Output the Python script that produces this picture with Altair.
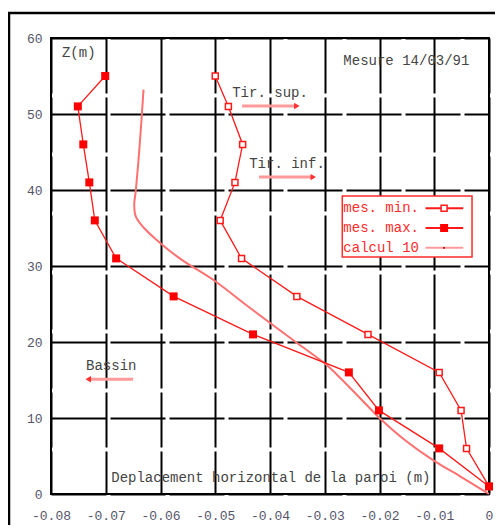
import altair as alt
import pandas as pd

# ---- data ----
z_mes = [55, 51, 46, 41, 36, 31, 26, 21, 16, 11, 6, 1]
x_min = [-0.0500, -0.0476, -0.0450, -0.0464, -0.0491, -0.0452, -0.0351, -0.0221, -0.0091, -0.0051, -0.0041, 0.0]
x_max = [-0.0701, -0.0751, -0.0741, -0.0730, -0.0720, -0.0681, -0.0576, -0.0431, -0.0256, -0.0201, -0.0091, 0.0]

z_calc = [53.2, 50, 45, 40, 38, 36.5, 35, 33.5, 31, 28, 25, 23, 20, 17, 15, 12.5, 10, 7, 4.25, 2.3, 0]
x_calc = [-0.0631, -0.0634, -0.0639, -0.0645, -0.0648, -0.0645, -0.0630, -0.0608, -0.0565, -0.0500,
          -0.0446, -0.0409, -0.0353, -0.0297, -0.0268, -0.0234, -0.0200, -0.0152, -0.0098, -0.0052, 0.0]

x_ticks = [-0.08, -0.07, -0.06, -0.05, -0.04, -0.03, -0.02, -0.01, 0]
y_ticks = [0, 10, 20, 30, 40, 50, 60]

ann_text = ["Z(m)", "Mesure 14/03/91", "Tir. sup.", "Tir. inf.", "Bassin",
            "Deplacement horizontal de la paroi (m)"]
ann_x = [-0.0780, -0.0266, -0.0469, -0.0438, -0.0736, -0.0690]
ann_z = [58.0, 57.0, 52.8, 43.4, 16.9, 2.1]

arrow_x1 = [-0.0451, -0.0420, -0.0650]
arrow_x2 = [-0.0351, -0.0321, -0.0732]
arrow_z = [51.05, 41.7, 15.1]
arrow_shape = ["triangle-right", "triangle-right", "triangle-left"]

leg_labels = ["mes. min.", "mes. max.", "calcul 10"]
leg_z = [37.6, 35.0, 32.4]
leg_box_x = [-0.0268, -0.0031]
leg_box_z = [31.2, 39.2]
leg_text_x = -0.0266
leg_sym_x = [-0.0116, -0.0047]
leg_mark_x = -0.0082

FONT = "Liberation Mono"
RED = "#ff1a1a"
PINK = "#ff7070"

df_min = pd.DataFrame({"x": x_min, "z": z_mes, "o": range(len(z_mes))})
df_max = pd.DataFrame({"x": x_max, "z": z_mes, "o": range(len(z_mes))})
df_calc = pd.DataFrame({"x": x_calc, "z": z_calc, "o": range(len(z_calc))})
df_ann = pd.DataFrame({"t": ann_text, "x": ann_x, "z": ann_z})
df_arr = pd.DataFrame({"x1": arrow_x1, "x2": arrow_x2, "z": arrow_z, "s": arrow_shape})
df_leg = pd.DataFrame({"t": leg_labels, "z": leg_z, "x": [leg_text_x] * 3,
                       "s1": [leg_sym_x[0]] * 3, "s2": [leg_sym_x[1]] * 3, "m": [leg_mark_x] * 3})
df_box = pd.DataFrame({"x1": [leg_box_x[0]], "x2": [leg_box_x[1]], "z1": [leg_box_z[0]], "z2": [leg_box_z[1]]})

xs = alt.Scale(domain=[-0.08, 0], nice=False, zero=False)
ys = alt.Scale(domain=[0, 60], nice=False, zero=False)
x_axis = alt.Axis(values=x_ticks, title=None, labelExpr="'' + datum.value", labelPadding=15,
                  tickSize=0, grid=True, domain=False, labelOverlap=False, labelBound=False,
                  labelFlush=False)
y_axis = alt.Axis(values=y_ticks, title=None, labelPadding=9, tickSize=0, grid=True, domain=False,
                  labelOverlap=False, labelFlush=False)


def X(f="x"):
    return alt.X(f"{f}:Q", scale=xs, axis=x_axis)


def Y(f="z"):
    return alt.Y(f"{f}:Q", scale=ys, axis=y_axis)


frame_left = alt.Chart(df_box).mark_rule(color="black", strokeWidth=2.5).encode(
    x=alt.value(-42), y=alt.value(-25), y2=alt.value(700))
frame_top = alt.Chart(df_box).mark_rule(color="black", strokeWidth=2.5).encode(
    x=alt.value(-43), x2=alt.value(700), y=alt.value(-25))

line_min = alt.Chart(df_min).mark_line(color=RED, strokeWidth=1.3).encode(x=X(), y=Y(), order="o:Q")
pts_min = alt.Chart(df_min).mark_point(shape="square", filled=False, color=RED, size=36,
                                       strokeWidth=1.5, fill="white", fillOpacity=1).encode(x=X(), y=Y())
line_max = alt.Chart(df_max).mark_line(color=RED, strokeWidth=1.3).encode(x=X(), y=Y(), order="o:Q")
pts_max = alt.Chart(df_max).mark_point(shape="square", filled=True, color="#ff0000", size=64,
                                       opacity=1).encode(x=X(), y=Y())
line_calc = alt.Chart(df_calc).mark_line(color=PINK, strokeWidth=2.0, interpolate="catmull-rom").encode(
    x=X(), y=Y(), order="o:Q")

ann = alt.Chart(df_ann).mark_text(align="left", baseline="middle", font=FONT, fontSize=14,
                                  color="#444444").encode(x=X(), y=Y(), text="t:N")
arr_shaft = alt.Chart(df_arr).mark_rule(color="#ff9a9a", strokeWidth=3).encode(
    x=X("x1"), x2="x2:Q", y=Y())
arr_head = alt.Chart(df_arr).mark_point(filled=True, color="#ff3030", size=40, opacity=1).encode(
    x=X("x2"), y=Y(), shape=alt.Shape("s:N", scale=None, legend=None))

box = alt.Chart(df_box).mark_rect(fill="white", stroke="#ff2a2a", strokeWidth=1.5).encode(
    x=X("x1"), x2="x2:Q", y=Y("z1"), y2="z2:Q")
leg_text = alt.Chart(df_leg).mark_text(align="left", baseline="middle", font=FONT, fontSize=14,
                                       color="#ff2a2a").encode(x=X(), y=Y(), text="t:N")
leg_lines = alt.Chart(df_leg).mark_rule(strokeWidth=2).encode(
    x=X("s1"), x2="s2:Q", y=Y(),
    color=alt.Color("t:N", scale=alt.Scale(domain=leg_labels, range=[RED, RED, "#ff9a9a"]), legend=None),
    strokeWidth=alt.StrokeWidth("t:N", scale=alt.Scale(domain=leg_labels, range=[1.5, 2, 3]), legend=None))
leg_min = alt.Chart(df_leg.iloc[[0]]).mark_point(shape="square", filled=False, color=RED, size=36,
                                                strokeWidth=1.5, fill="white", fillOpacity=1).encode(
    x=X("m"), y=Y())
leg_max = alt.Chart(df_leg.iloc[[1]]).mark_point(shape="square", filled=True, color="#ff0000", size=64,
                                                opacity=1).encode(x=X("m"), y=Y())
leg_calc = alt.Chart(df_leg.iloc[[2]]).mark_point(shape="square", filled=True, color="#cc0000", size=3,
                                                 opacity=1).encode(x=X("m"), y=Y())

chart = alt.layer(
    frame_left, frame_top, line_calc, line_min, line_max, pts_min, pts_max,
    ann, arr_shaft, arr_head, box, leg_text, leg_lines, leg_min, leg_max, leg_calc
).properties(
    width=438, height=456,
    autosize=alt.AutoSizeParams(type="none"),
    padding={"left": 43, "top": 30, "right": 6, "bottom": 31},
    background="white",
).configure_view(
    stroke="black", strokeWidth=2
).configure_axis(
    gridColor="black", gridWidth=2, gridDash=[55, 4], gridOpacity=1,
    labelFont=FONT, labelFontSize=13, labelColor="#55556a",
)

chart.save("out.html", embed_options={"renderer": "svg", "actions": False})
